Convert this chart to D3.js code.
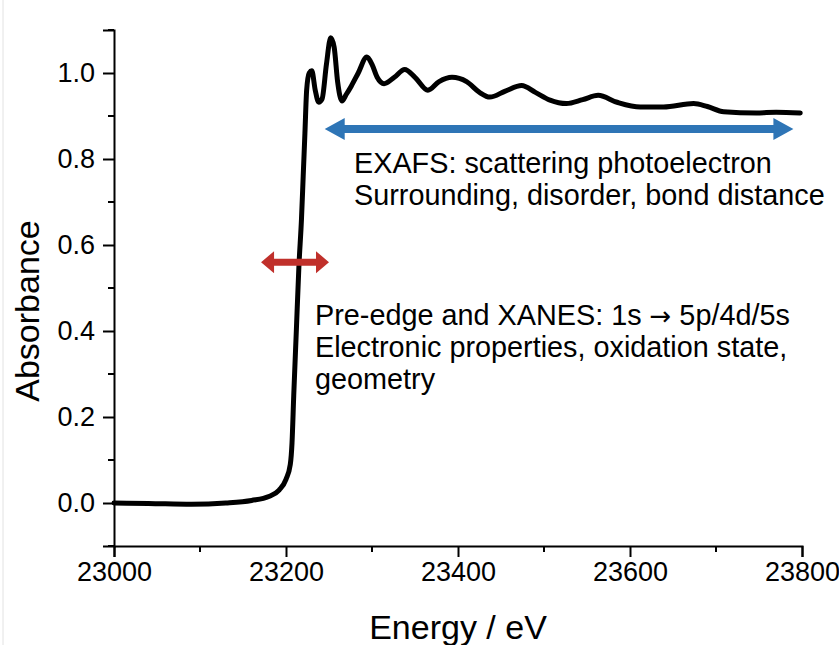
<!DOCTYPE html>
<html>
<head>
<meta charset="utf-8">
<script src="https://cdn.jsdelivr.net/npm/d3@7/dist/d3.min.js"></script>
<style>
  html, body { margin: 0; padding: 0; background: #fff; }
  svg { display: block; font-family: "Liberation Sans", Arial, sans-serif; }
  .tick-label { font-size: 27px; fill: #000; }
  .axis-title { font-size: 34px; fill: #000; }
  .note { font-size: 28.8px; fill: #000; }
  .arrow-glyph { font-family: "DejaVu Sans", sans-serif; font-size: 26px; }
</style>
</head>
<body>
<svg id="chart" width="839" height="645"></svg>
<script>
// spectrum
const energy = [
  23000, 23040, 23090, 23130, 23160, 23180, 23192, 23200, 23205, 23207,
  23209, 23212, 23215, 23218, 23220, 23222, 23224, 23227, 23230, 23234,
  23238, 23242, 23247, 23252, 23256, 23260, 23265, 23270, 23276, 23284,
  23294, 23300, 23306, 23314, 23326, 23338, 23350, 23365, 23378, 23393,
  23410, 23425, 23437, 23455, 23474, 23490, 23507, 23526, 23545, 23563,
  23585, 23612, 23639, 23674, 23690, 23709, 23747, 23770, 23798
];
const absorbance = [
  0.000, -0.001, -0.003, 0.000, 0.006, 0.015, 0.030, 0.055, 0.090, 0.140,
  0.250, 0.400, 0.550, 0.660, 0.760, 0.860, 0.960, 1.000, 1.005, 0.960,
  0.932, 0.940, 1.020, 1.082, 1.060, 0.980, 0.935, 0.950, 0.970, 1.000,
  1.037, 1.020, 0.990, 0.975, 0.990, 1.008, 0.990, 0.960, 0.980, 0.990,
  0.980, 0.955, 0.944, 0.958, 0.971, 0.955, 0.937, 0.929, 0.938, 0.948,
  0.932, 0.921, 0.921, 0.929, 0.922, 0.910, 0.907, 0.909, 0.907
];

const xMajor = [23000, 23200, 23400, 23600, 23800];
const xMinor = [23100, 23300, 23500, 23700];
const yMajor = [0.0, 0.2, 0.4, 0.6, 0.8, 1.0];
const yMinor = [-0.1, 0.1, 0.3, 0.5, 0.7, 0.9, 1.1];

// annotation arrows: [from energy, to energy, absorbance level]
const exafsArrow = [23245, 23790, 0.870];
const xanesArrow = [23171, 23250, 0.560];

const exafsLines = ['EXAFS: scattering photoelectron', 'Surrounding, disorder, bond distance'];
const xanesLines = ['Pre-edge and XANES: 1s \u2192 5p/4d/5s', 'Electronic properties, oxidation state,', 'geometry'];

const svg = d3.select('#chart');

const x = d3.scaleLinear().domain([23000, 23800]).range([114, 802]);
const y = d3.scaleLinear().domain([-0.1, 1.1]).range([546, 30]);

// faint page edge on the left
svg.append('line')
  .attr('x1', 3).attr('x2', 3).attr('y1', 0).attr('y2', 645)
  .attr('stroke', '#e2e2e2').attr('stroke-width', 1);

// axes
const xAxis = svg.append('g')
  .attr('transform', `translate(0,${y(-0.1)})`)
  .call(d3.axisBottom(x).tickValues(xMajor).tickSize(11).tickPadding(5).tickFormat(d3.format('d')));
xAxis.append('g').selectAll('line')
  .data(xMinor).enter().append('line')
  .attr('x1', d => x(d)).attr('x2', d => x(d))
  .attr('y1', 0).attr('y2', 6)
  .attr('stroke', '#000').attr('stroke-width', 2);

const yAxis = svg.append('g')
  .attr('transform', `translate(${x(23000)},0)`)
  .call(d3.axisLeft(y).tickValues(yMajor).tickSize(11).tickPadding(8).tickFormat(d3.format('.1f')));
yAxis.append('g').selectAll('line')
  .data(yMinor).enter().append('line')
  .attr('x1', 0).attr('x2', -6)
  .attr('y1', d => y(d)).attr('y2', d => y(d))
  .attr('stroke', '#000').attr('stroke-width', 2);

[xAxis, yAxis].forEach(g => {
  g.attr('font-size', null).attr('font-family', null);
  g.select('.domain').attr('stroke', '#000').attr('stroke-width', 2);
  g.selectAll('.tick line').attr('stroke', '#000').attr('stroke-width', 2);
  g.selectAll('.tick text').attr('class', 'tick-label');
});

// axis titles
svg.append('text')
  .attr('class', 'axis-title')
  .attr('x', (x(23000) + x(23800)) / 2)
  .attr('y', 639)
  .attr('text-anchor', 'middle')
  .text('Energy / eV');

svg.append('text')
  .attr('class', 'axis-title')
  .attr('transform', `translate(39,${(y(-0.1) + y(1.1)) / 2 + 23}) rotate(-90)`)
  .attr('text-anchor', 'middle')
  .text('Absorbance');

// spectrum
const points = energy.map((e, i) => [e, absorbance[i]]);
svg.append('path')
  .datum(points)
  .attr('fill', 'none')
  .attr('stroke', '#000')
  .attr('stroke-width', 5)
  .attr('stroke-linejoin', 'round')
  .attr('stroke-linecap', 'round')
  .attr('d', d3.line()
    .x(d => x(d[0]))
    .y(d => y(d[1]))
    .curve(d3.curveMonotoneX));

// double headed arrow as a polygon
function doubleArrow(spec, shaft, headLen, headHalf, color) {
  const x0 = x(spec[0]), x1 = x(spec[1]), yc = y(spec[2]);
  const s = shaft / 2;
  const pts = [
    [x0, yc],
    [x0 + headLen, yc - headHalf],
    [x0 + headLen, yc - s],
    [x1 - headLen, yc - s],
    [x1 - headLen, yc - headHalf],
    [x1, yc],
    [x1 - headLen, yc + headHalf],
    [x1 - headLen, yc + s],
    [x0 + headLen, yc + s],
    [x0 + headLen, yc + headHalf]
  ];
  svg.append('polygon')
    .attr('points', pts.map(p => p.join(',')).join(' '))
    .attr('fill', color);
}

doubleArrow(exafsArrow, 8, 20, 11, '#2e75b6');
doubleArrow(xanesArrow, 7, 13, 11, '#c0302b');

// annotation text
svg.append('g').selectAll('text')
  .data(exafsLines).enter().append('text')
  .attr('class', 'note')
  .attr('x', 354)
  .attr('y', (d, i) => 173 + i * 32)
  .text(d => d);

// the arrow glyph gets a font with a longer arrow
svg.append('g').selectAll('text')
  .data(xanesLines).enter().append('text')
  .attr('class', 'note')
  .attr('x', 315)
  .attr('y', (d, i) => 325 + i * 32)
  .each(function (d) {
    const parts = d.split('\u2192');
    const t = d3.select(this);
    parts.forEach((p, j) => {
      if (j > 0) t.append('tspan').attr('class', 'arrow-glyph').text('\u2192');
      t.append('tspan').text(p);
    });
  });
</script>
</body>
</html>
